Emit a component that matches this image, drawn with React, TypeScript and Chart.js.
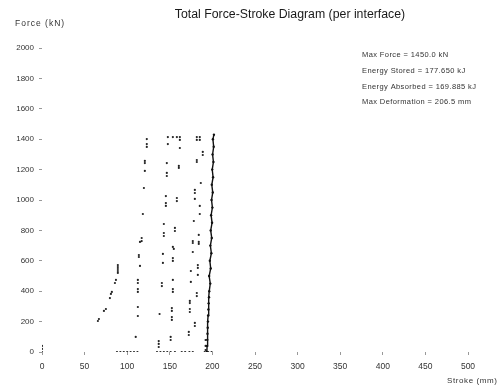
import React, { useEffect, useRef } from "react";
import { Chart, registerables } from "chart.js";

Chart.register(...registerables);

const TITLE = "Total Force-Stroke Diagram (per interface)";
const Y_TITLE = "Force (kN)";
const X_TITLE = "Stroke (mm)";
const NOTES = [
  "Max Force = 1450.0 kN",
  "Energy Stored = 177.650 kJ",
  "Energy Absorbed = 169.885 kJ",
  "Max Deformation = 206.5 mm",
];

const X_MIN = 0;
const X_MAX = 500;
const X_STEP = 50;
const Y_MIN = 0;
const Y_MAX = 2000;
const Y_STEP = 200;

// main loading curve (dense band)
const loadStroke = [
  193.5, 193.8, 194, 194.2, 194.5, 194.8, 195, 195.3, 195.6, 196, 196.3, 197.5, 196.2, 198, 197,
  198.8, 197.6, 199.2, 198, 199.6, 198.5, 200, 199, 200.4, 199.3, 200.8, 199.8, 201.2, 200.2,
  201.5, 200.6, 201.8,
];
const loadForce = [
  0, 40, 80, 120, 160, 200, 240, 280, 320, 360, 400, 450, 500, 550, 600, 650, 700, 750, 800, 850,
  900, 950, 1000, 1050, 1100, 1150, 1200, 1250, 1300, 1350, 1400, 1430,
];

// scattered samples, group A
const aStroke = [
  0, 0, 0, 65.6, 66.8, 72.7, 75, 79.7, 80.9, 82, 85.6, 86.8, 89, 89, 89, 89, 89, 88, 92, 96, 100,
  104, 108, 112, 110, 112.5, 112.5, 112.5, 112.5, 112.5, 112.5, 115, 113.7, 113.7, 115, 117, 117,
  118.4, 119.6, 120.7, 120.7, 120.7, 123, 123, 123,
];
const aForce = [
  0, 20, 40, 204, 217, 270, 283, 355, 382, 395, 454, 474, 520, 533, 546, 559, 572, 0, 0, 0, 0, 0,
  0, 0, 99, 237, 296, 395, 414, 454, 474, 566, 625, 638, 724, 730, 750, 908, 1079, 1191, 1243,
  1257, 1349, 1368, 1401,
];

// group B
const bStroke = [
  137, 137, 137, 138, 140.7, 140.7, 141.9, 141.9, 143, 143, 143, 145.4, 145.4, 145.4, 146.5, 146.5,
  146.5, 147.7, 147.7, 135, 139, 143, 147, 151, 156,
];
const bForce = [
  33, 53, 72, 250, 434, 454, 586, 645, 763, 783, 842, 961, 980, 1026, 1158, 1178, 1243, 1368, 1414,
  0, 0, 0, 0, 0, 0,
];

// group C
const cStroke = [
  151, 151, 152.4, 152.4, 152.4, 152.4, 153.6, 153.6, 153.6, 153.6, 153.6, 154.7, 153.6, 156, 156,
  158.3, 158.3, 160.6, 160.6, 161.8, 161.8, 161.8, 158.3, 153.6,
];
const cForce = [
  79, 99, 211, 230, 270, 289, 395, 414, 474, 599, 618, 678, 691, 796, 816, 993, 1013, 1211, 1224,
  1342, 1395, 1414, 1414, 1414,
];

// group D
const dStroke = [
  172.3, 172.3, 179.4, 179.4, 173.5, 173.5, 173.5, 173.5, 181.7, 181.7, 174.7, 174.7, 182.9, 182.9,
  182.9, 177, 184, 177, 184, 177, 184, 178.2, 185.2, 185.2, 179.4, 179.4, 179.4, 186.4, 181.7,
  181.7, 188.7, 188.7, 181.7, 181.7, 185.2, 185.2, 164, 168, 173, 177, 192, 192, 192, 191, 195,
  199,
];
const dForce = [
  112, 132, 171, 191, 263, 283, 322, 336, 368, 388, 461, 533, 507, 553, 572, 658, 711, 717, 724,
  730, 770, 862, 908, 961, 1007, 1046, 1066, 1112, 1250, 1263, 1296, 1316, 1395, 1414, 1395, 1414,
  0, 0, 0, 0, 13, 40, 79, 0, 0, 0,
];

const zip = (xs: number[], ys: number[]) => xs.map((x, i) => ({ x, y: ys[i] }));

const FONT = "'Liberation Sans', Arial, sans-serif";
const INK = "#1a1a1a";

const textPlugin = {
  id: "textPlugin",
  afterDraw(chart: any) {
    const ctx = chart.ctx;
    ctx.save();
    ctx.fillStyle = INK;
    ctx.textBaseline = "middle";
    ctx.textAlign = "center";
    ctx.font = `12.3px ${FONT}`;
    ctx.fillText(TITLE, 290, 15);
    ctx.textAlign = "left";
    ctx.fillStyle = "#333";
    ctx.font = `8.5px ${FONT}`;
    (ctx as any).letterSpacing = "1px";
    ctx.fillText(Y_TITLE, 15, 24);
    ctx.font = `8px ${FONT}`;
    (ctx as any).letterSpacing = "0.6px";
    ctx.fillText(X_TITLE, 447, 381);
    ctx.font = `7.5px ${FONT}`;
    (ctx as any).letterSpacing = "0.4px";
    const ys = [55, 71, 87, 102];
    NOTES.forEach((t, i) => ctx.fillText(t, 362, ys[i]));
    (ctx as any).letterSpacing = "0px";
    ctx.restore();
  },
};

export default function App() {
  const ref = useRef<HTMLCanvasElement | null>(null);
  useEffect(() => {
    if (!ref.current) return;
    const pointStyle = {
      showLine: false,
      pointRadius: 1.1,
      pointBorderWidth: 0,
      pointBackgroundColor: "#222",
      borderColor: "#222",
    };
    const chart = new Chart(ref.current, {
      type: "scatter",
      data: {
        datasets: [
          {
            data: zip(loadStroke, loadForce),
            showLine: true,
            borderColor: "#111",
            borderWidth: 1.4,
            pointRadius: 1.2,
            pointBorderWidth: 0,
            pointBackgroundColor: "#111",
          },
          { data: zip(aStroke, aForce), ...pointStyle },
          { data: zip(bStroke, bForce), ...pointStyle },
          { data: zip(cStroke, cForce), ...pointStyle },
          { data: zip(dStroke, dForce), ...pointStyle },
        ],
      },
      options: {
        animation: false,
        responsive: false,
        maintainAspectRatio: false,
        layout: { padding: { left: 15, top: 48, right: 32, bottom: 8 } },
        plugins: {
          legend: { display: false },
          title: { display: false },
          tooltip: { enabled: false },
        },
        scales: {
          x: {
            type: "linear",
            min: X_MIN,
            max: X_MAX,
            afterFit: (s: any) => {
              s.height = 25;
            },
            ticks: {
              stepSize: X_STEP,
              padding: 7,
              color: "#333",
              font: { family: FONT, size: 8.5 },
              maxRotation: 0,
              callback: (v: any) => String(v),
            },
            grid: { drawOnChartArea: false, tickLength: 3, color: "#999" },
            border: { display: false },
          },
          y: {
            type: "linear",
            min: Y_MIN,
            max: Y_MAX,
            afterFit: (s: any) => {
              s.width = 27;
            },
            ticks: {
              stepSize: Y_STEP,
              padding: 5,
              color: "#333",
              font: { family: FONT, size: 8 },
              callback: (v: any) => String(v),
            },
            grid: { drawOnChartArea: false, tickLength: 3, color: "#999" },
            border: { display: false },
          },
        },
      },
      plugins: [textPlugin],
    });
    return () => chart.destroy();
  }, []);
  return (
    <div style={{ position: "fixed", left: 0, top: 0, width: 500, height: 385, background: "#fff" }}>
      <canvas ref={ref} width={500} height={385} style={{ width: 500, height: 385 }} />
    </div>
  );
}
